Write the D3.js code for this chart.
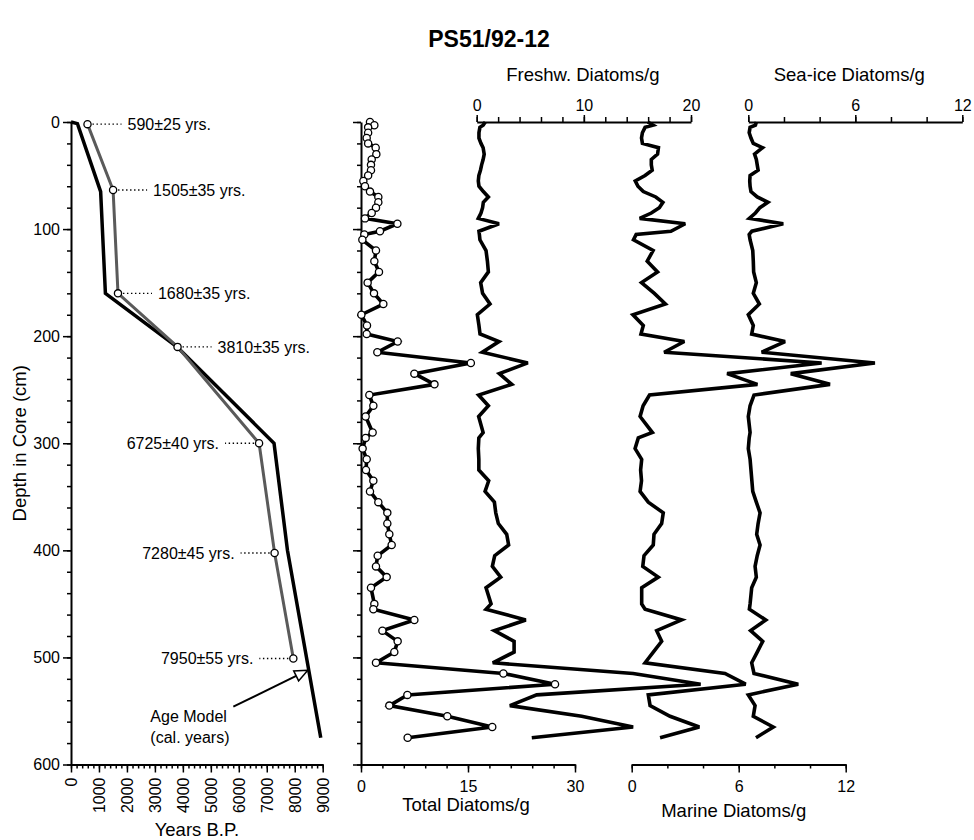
<!DOCTYPE html>
<html>
<head>
<meta charset="utf-8">
<script src="https://cdn.jsdelivr.net/npm/d3@7"></script>
<style>
  body { margin: 0; background: #fff; }
  svg text { font-family: "Liberation Sans", Arial, Helvetica, sans-serif; fill: #000; }
</style>
</head>
<body>
<div id="chart"></div>
<script>
// sample depths (cm) shared by all diatom records
const depths = [0, 3, 5, 10, 15, 20, 24, 30, 35, 40, 45, 50, 55, 60, 65, 70, 75, 80, 85, 90,
  95, 102, 105, 110, 120, 130, 140, 150, 160, 170, 180, 190,
  198, 205, 215, 225, 235, 245, 255, 265, 275, 290, 295,
  305, 315, 325, 335, 345, 355, 365, 375, 385, 395, 405, 415, 425, 435,
  450, 455, 465, 475, 485, 495, 505, 515, 525, 535, 545, 555, 565, 575];

const totalDiatoms = [1.26, 1.87, 1.0, 1.0, 0.8, 1.0, 2.06, 2.15, 1.5, 1.4, 1.4, 1.0, 0.33, 0.56, 1.26, 2.43, 2.43, 2.1, 1.5, 0.56,
  5.1, 2.66, 0.47, 0.19, 2.1, 1.87, 2.52, 0.93, 1.82, 3.13, 0.05, 0.84,
  0.8, 5.14, 2.29, 15.4, 7.48, 10.3, 1.17, 1.73, 0.65, 1.63, 0.65,
  0.23, 0.8, 0.7, 1.73, 1.26, 2.43, 3.69, 3.69, 3.97, 4.3, 2.34, 2.1, 3.6, 1.4,
  1.87, 1.73, 7.48, 3.0, 5.14, 4.67, 2.1, 19.96, 27.2, 6.5, 3.97, 12.1, 18.4, 6.54];

const freshwDiatoms = [0.8, 0.6, 0.3, 0.21, 0.21, 0.4, 0.6, 0.7, 0.6, 0.46, 0.35, 0.2, 0.15, 0.21, 0.62, 1.09, 0.62, 0.55, 0.4, 0.15,
  2.08, 0.21, 0.25, 0.3, 0.87, 1.0, 1.09, 0.37, 0.55, 1.24, 0.06, 0.21,
  0.31, 2.08, 0.52, 4.77, 2.11, 3.27, 0.18, 1.09, 0.18, 0.6, 0.2,
  0.15, 0.2, 0.2, 1.12, 0.78, 1.65, 1.78, 2.02, 2.8, 2.98, 1.68, 1.46, 2.24, 0.87,
  1.34, 0.87, 4.58, 1.65, 3.49, 3.49, 1.5, 14.6, 20.9, 5.6, 3.1, 9.8, 14.6, 5.14];

const marineDiatoms = [0.9, 1.2, 0.75, 0.6, 0.55, 0.6, 1.5, 1.45, 1.1, 1.1, 1.15, 0.75, 0.2, 0.35, 0.65, 1.35, 1.75, 1.55, 1.1, 0.45,
  3.0, 2.2, 0.25, 0.1, 1.2, 0.87, 1.45, 0.55, 1.27, 1.89, 0.07, 0.65,
  0.52, 2.95, 1.82, 10.65, 5.35, 7.05, 1.0, 0.64, 0.47, 1.16, 0.37,
  0.19, 0.56, 0.5, 0.55, 0.47, 0.93, 1.77, 1.68, 1.25, 1.21, 0.69, 0.62, 1.49, 0.56,
  0.56, 0.75, 2.8, 1.4, 1.68, 1.21, 0.75, 5.23, 6.39, 0.93, 1.03, 2.15, 3.79, 1.59];

const seaIceDiatoms = [0.45, 0.4, 0.1, 0.05, 0.15, 0.28, 0.8, 0.35, 0.45, 0.5, 0.55, 0.1, 0.08, 0.1, 0.15, 0.5, 1.1, 0.65, 0.4, 0.06,
  1.96, 0.2, 0.05, 0.1, 0.25, 0.28, 0.3, 0.45, 0.28, 0.62, 0.0, 0.28,
  0.19, 2.06, 0.75, 7.1, 2.38, 4.58, 0.32, 0.1, 0.0, 0.1, 0.05,
  0.0, 0.1, 0.15, 0.2, 0.25, 0.45, 0.66, 0.55, 0.47, 0.66, 0.5, 0.38, 0.45, 0.19,
  0.1, 0.06, 0.98, 0.13, 0.81, 0.5, 0.19, 0.32, 2.8, 0.0, 0.38, 0.28, 1.4, 0.43];

// AMS 14C dates
const c14Depths = [2, 63.5, 160, 210, 300, 402.5, 501];
const c14Ages = [590, 1505, 1680, 3810, 6725, 7280, 7950];
const c14Labels = ["590±25 yrs.", "1505±35 yrs.", "1680±35 yrs.", "3810±35 yrs.",
  "6725±40 yrs.", "7280±45 yrs.", "7950±55 yrs."];

// age model (cal. years)
const modelDepths = [0, 1.5, 65, 160, 210, 300, 400, 575];
const modelAges = [0, 230, 1060, 1230, 3790, 7260, 7740, 8930];

const depthTicks = [0, 100, 200, 300, 400, 500, 600];
const ageTicks = [0, 1000, 2000, 3000, 4000, 5000, 6000, 7000, 8000, 9000];

const svg = d3.select("#chart").append("svg")
  .attr("width", 974)
  .attr("height", 840);

// scales
const y = d3.scaleLinear().domain([0, 600]).range([122, 764.5]);
const xAge = d3.scaleLinear().domain([0, 9000]).range([71, 322.7]);
const xTotal = d3.scaleLinear().domain([0, 30]).range([361, 575]);
const xFresh = d3.scaleLinear().domain([0, 20]).range([476.7, 691]);
const xMarine = d3.scaleLinear().domain([0, 12]).range([631.7, 845.7]);
const xIce = d3.scaleLinear().domain([0, 12]).range([748.3, 962.3]);

function styleAxis(g) {
  g.select(".domain").attr("stroke", "#000").attr("stroke-width", 2);
  g.selectAll(".tick line").attr("stroke", "#000").attr("stroke-width", 1.5);
  g.selectAll(".tick text").attr("font-size", 16).attr("fill", "#000")
    .attr("font-family", '"Liberation Sans", Arial, sans-serif');
}

// draws one axis with minor and major ticks
function axisPair(make, scale, minorStep, majorVals, tx, ty, majorLen, minorLen, padding) {
  const d = scale.domain();
  const minor = d3.range(d[0], d[1] + minorStep / 2, minorStep);
  const gMinor = svg.append("g").attr("transform", `translate(${tx},${ty})`)
    .call(make(scale).tickValues(minor).tickSize(minorLen).tickSizeOuter(0).tickFormat(""));
  styleAxis(gMinor);
  const gMajor = svg.append("g").attr("transform", `translate(${tx},${ty})`)
    .call(make(scale).tickValues(majorVals).tickSize(majorLen).tickSizeOuter(0)
      .tickPadding(padding).tickFormat(d3.format("d")));
  styleAxis(gMajor);
  gMajor.select(".domain").remove();
  return gMajor;
}

// title
svg.append("text")
  .attr("x", 489).attr("y", 47)
  .attr("text-anchor", "middle")
  .attr("font-size", 23).attr("font-weight", "bold")
  .text("PS51/92-12");

// ---------- left panel: age vs depth ----------
axisPair(d3.axisLeft, y, 20, depthTicks, xAge(0), 0, 8, 4, 3);
const gAgeAx = axisPair(d3.axisBottom, xAge, 200, ageTicks, 0, y(600), 8, 4, 3);
gAgeAx.selectAll(".tick text")
  .attr("transform", "rotate(-90)")
  .attr("x", -13).attr("y", 0).attr("dy", "0.35em")
  .attr("text-anchor", "end");

svg.append("text")
  .attr("transform", `translate(26,${y(300)}) rotate(-90)`)
  .attr("text-anchor", "middle")
  .attr("font-size", 18.5)
  .text("Depth in Core (cm)");

svg.append("text")
  .attr("x", (xAge(0) + xAge(9000)) / 2).attr("y", 836)
  .attr("text-anchor", "middle")
  .attr("font-size", 18.5)
  .text("Years B.P.");

const c14 = c14Depths.map((d, i) => ({ depth: d, age: c14Ages[i], label: c14Labels[i] }));
const model = modelDepths.map((d, i) => ({ depth: d, age: modelAges[i] }));

svg.append("path")
  .datum(model)
  .attr("fill", "none")
  .attr("stroke", "#000")
  .attr("stroke-width", 3.5)
  .attr("stroke-linejoin", "miter")
  .attr("d", d3.line().x(d => xAge(d.age)).y(d => y(d.depth)));

svg.append("path")
  .datum(c14)
  .attr("fill", "none")
  .attr("stroke", "#5a5a5a")
  .attr("stroke-width", 3)
  .attr("d", d3.line().x(d => xAge(d.age)).y(d => y(d.depth)));

// dotted leaders and labels
const onLeft = d => d.age > 6000;
svg.selectAll(".leader")
  .data(c14)
  .join("line")
  .attr("class", "leader")
  .attr("x1", d => xAge(d.age) + (onLeft(d) ? -5 : 5))
  .attr("x2", d => xAge(d.age) + (onLeft(d) ? -34 : 34))
  .attr("y1", d => y(d.depth))
  .attr("y2", d => y(d.depth))
  .attr("stroke", "#000")
  .attr("stroke-width", 1.4)
  .attr("stroke-dasharray", "1.4,2.6");

svg.selectAll(".c14label")
  .data(c14)
  .join("text")
  .attr("class", "c14label")
  .attr("x", d => xAge(d.age) + (onLeft(d) ? -40 : 40))
  .attr("y", d => y(d.depth))
  .attr("dy", "0.36em")
  .attr("text-anchor", d => onLeft(d) ? "end" : "start")
  .attr("font-size", 16)
  .text(d => d.label);

svg.selectAll(".c14pt")
  .data(c14)
  .join("circle")
  .attr("class", "c14pt")
  .attr("cx", d => xAge(d.age))
  .attr("cy", d => y(d.depth))
  .attr("r", 3.6)
  .attr("fill", "#fff")
  .attr("stroke", "#000")
  .attr("stroke-width", 1.3);

// age model arrow
const tail = [xAge(5805), y(546)];
const tip = [xAge(8470), y(512)];
const ang = Math.atan2(tip[1] - tail[1], tip[0] - tail[0]);
const headLen = 13, headW = 5.5;
const base = [tip[0] - headLen * Math.cos(ang), tip[1] - headLen * Math.sin(ang)];
svg.append("line")
  .attr("x1", tail[0]).attr("y1", tail[1])
  .attr("x2", base[0]).attr("y2", base[1])
  .attr("stroke", "#000").attr("stroke-width", 2);
svg.append("path")
  .attr("d", d3.line()([
    tip,
    [base[0] + headW * Math.sin(ang), base[1] - headW * Math.cos(ang)],
    [base[0] - headW * Math.sin(ang), base[1] + headW * Math.cos(ang)]
  ]) + "Z")
  .attr("fill", "#fff").attr("stroke", "#000").attr("stroke-width", 1.6);

svg.append("text").attr("x", tail[0] - 83).attr("y", tail[1] + 15)
  .attr("font-size", 16).text("Age Model");
svg.append("text").attr("x", tail[0] - 83).attr("y", tail[1] + 36.6)
  .attr("font-size", 16).text("(cal. years)");

// ---------- diatom panels ----------
axisPair(d3.axisLeft, y, 20, depthTicks, xTotal(0), 0, 8, 4, 3)
  .selectAll(".tick text").remove();
axisPair(d3.axisBottom, xTotal, 3, [0, 15, 30], 0, y(600), 8, 4, 8);
axisPair(d3.axisBottom, xMarine, 2, [0, 6, 12], 0, y(600), 8, 4, 8);
axisPair(d3.axisTop, xFresh, 2, [0, 10, 20], 0, y(0), 7, 5, 4);
axisPair(d3.axisTop, xIce, 2, [0, 6, 12], 0, y(0), 7, 5, 4);

svg.append("text").attr("x", xTotal(15) - 2).attr("y", 810.5)
  .attr("text-anchor", "middle").attr("font-size", 18.5).text("Total Diatoms/g");
svg.append("text").attr("x", xMarine(6) - 5).attr("y", 817)
  .attr("text-anchor", "middle").attr("font-size", 18.5).text("Marine Diatoms/g");
svg.append("text").attr("x", xFresh(10) - 1).attr("y", 81)
  .attr("text-anchor", "middle").attr("font-size", 18.5).text("Freshw. Diatoms/g");
svg.append("text").attr("x", xIce(6) - 6).attr("y", 81)
  .attr("text-anchor", "middle").attr("font-size", 18.5).text("Sea-ice Diatoms/g");

function profile(values, xs) {
  svg.append("path")
    .datum(depths.map((d, i) => ({ depth: d, v: values[i] })))
    .attr("fill", "none")
    .attr("stroke", "#000")
    .attr("stroke-width", 3.6)
    .attr("stroke-linejoin", "miter")
    .attr("stroke-miterlimit", 3)
    .attr("d", d3.line().x(d => xs(d.v)).y(d => y(d.depth)));
}

profile(freshwDiatoms, xFresh);
profile(marineDiatoms, xMarine);
profile(seaIceDiatoms, xIce);
profile(totalDiatoms, xTotal);

svg.selectAll(".totpt")
  .data(depths.map((d, i) => ({ depth: d, v: totalDiatoms[i] })))
  .join("circle")
  .attr("class", "totpt")
  .attr("cx", d => xTotal(d.v))
  .attr("cy", d => y(d.depth))
  .attr("r", 3.6)
  .attr("fill", "#fff")
  .attr("stroke", "#000")
  .attr("stroke-width", 1.3);
</script>
</body>
</html>
